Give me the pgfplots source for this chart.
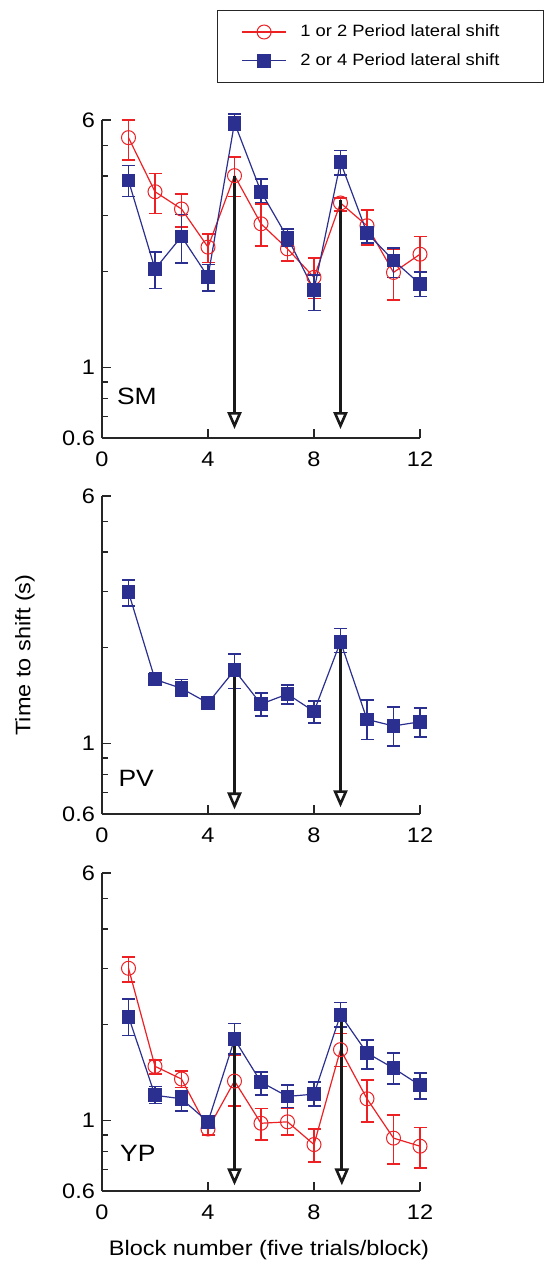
\documentclass[border=0pt]{standalone}
\usepackage{pgfplots}
\pgfplotsset{compat=1.18}
\usepackage{pgfplotstable}
\usetikzlibrary{arrows.meta}
\usepackage{fontspec}
\setmainfont{Liberation Sans}[FakeStretch=1.12]
\definecolor{redM}{RGB}{237,32,36}
\definecolor{blueM}{RGB}{43,47,143}

\pgfplotstableread{
x y hi lo
1 5.28 6.00 4.50
2 3.57 4.07 3.05
3 3.15 3.51 2.77
4 2.39 2.63 2.14
5 4.01 4.59 3.45
6 2.83 3.27 2.41
7 2.36 2.43 2.16
8 1.92 2.21 1.65
9 3.29 3.41 3.11
10 2.79 3.13 2.43
11 1.99 2.36 1.63
12 2.27 2.58 1.99
}\smred
\pgfplotstableread{
x y hi lo
1 3.87 4.32 3.45
2 2.04 2.31 1.77
3 2.58 3.03 2.13
4 1.93 2.11 1.74
5 5.88 6.28 5.56
6 3.57 3.91 3.30
7 2.56 2.73 2.41
8 1.75 1.95 1.51
9 4.42 4.81 4.03
10 2.65 2.73 2.46
11 2.17 2.37 1.92
12 1.83 2.00 1.67
}\smblue
\pgfplotstableread{
x y hi lo
1 2.99 3.27 2.70
2 1.59 1.67 1.52
3 1.49 1.59 1.41
4 1.34 1.37 1.31
5 1.70 1.91 1.49
6 1.33 1.44 1.22
7 1.43 1.53 1.33
8 1.26 1.36 1.16
9 2.09 2.30 1.93
10 1.19 1.37 1.03
11 1.135 1.30 0.98
12 1.17 1.29 1.05
}\pvblue
\pgfplotstableread{
x y hi lo
1 3.01 3.27 2.72
2 1.48 1.55 1.40
3 1.35 1.43 1.27
4 0.94 0.98 0.90
5 1.33 1.61 1.11
6 0.98 1.09 0.87
7 0.99 1.09 0.90
8 0.84 0.94 0.74
9 1.67 1.88 1.48
10 1.17 1.34 0.99
11 0.88 1.04 0.73
12 0.83 0.95 0.71
}\ypred
\pgfplotstableread{
x y hi lo
1 2.12 2.41 1.85
2 1.20 1.28 1.13
3 1.17 1.24 1.07
4 0.99 1.01 0.97
5 1.80 2.02 1.62
6 1.32 1.42 1.20
7 1.19 1.29 1.10
8 1.21 1.32 1.11
9 2.15 2.35 1.97
10 1.63 1.79 1.45
11 1.46 1.63 1.30
12 1.29 1.41 1.17
}\ypblue

\pgfplotsset{
  legend image code/.code={\draw[mark repeat=2,mark phase=2,#1]
    plot coordinates {(0cm,0cm) (0.38cm,0cm) (0.76cm,0cm)};},
  every axis/.append style={
    scale only axis, width=159pt, height=159pt, anchor=south west,
    xmin=0, xmax=12, ymin=0.6, ymax=6,
    axis x line*=bottom, axis y line*=left,
    xtick={0,4,8,12}, xticklabels={0,4,8,12},
    ytick={0.6,1,6}, yticklabels={0.6,1,6},
    minor ytick={0.7,0.8,0.9,2,3,4,5},
    major tick length=4.5pt, minor tick length=3pt,
    tick style={black!85, line width=0.6pt},
    axis line style={black!85, line width=0.6pt},
    tick label style={font=\fontsize{10.5}{12}\selectfont},
    xticklabel style={yshift=-3.5pt},
    clip=false,
  },
}

\begin{document}
\begin{tikzpicture}
\useasboundingbox (0,0) rectangle (273pt,-634.5pt);

% ---------- SM ----------
\begin{semilogyaxis}[at={(51pt,-219pt)},
  legend style={at={(1.39,1.346)}, anchor=north east, draw=black!85,
    line width=0.6pt, font=\fontsize{8.2}{10}\selectfont,
    inner xsep=12pt, inner ysep=5pt, row sep=3pt, cells={anchor=west}}]
\addplot[redM, line width=0.6pt, mark=o, mark size=3.5pt,
    mark options={fill=white, line width=0.5pt},
    error bars/.cd, y dir=both, y explicit, error mark=-,
    error bar style={line width=0.8pt},
    error mark options={rotate=90, mark size=3.25pt, line width=0.8pt}]
  table[x=x, y=y, y error plus expr=\thisrow{hi}-\thisrow{y},
  y error minus expr=\thisrow{y}-\thisrow{lo}] {\smred};
\addlegendentry{\hspace{5pt}1 or 2 Period lateral shift\kern8pt}
\addplot[blueM, line width=0.6pt, mark=square*, mark size=3.2pt,
    mark options={line width=0.5pt},
    error bars/.cd, y dir=both, y explicit, error mark=-,
    error bar style={line width=0.8pt},
    error mark options={rotate=90, mark size=3.25pt, line width=0.8pt}]
  table[x=x, y=y, y error plus expr=\thisrow{hi}-\thisrow{y},
  y error minus expr=\thisrow{y}-\thisrow{lo}] {\smblue};
\addlegendentry{\hspace{5pt}2 or 4 Period lateral shift\kern8pt}
\addplot[black!90, line width=1.5pt, forget plot,
    -{Triangle[open, width=7pt, length=8.5pt, line width=1.3pt]}] coordinates {(5,4.01) (5,0.64)};
\addplot[black!90, line width=1.5pt, forget plot,
    -{Triangle[open, width=7pt, length=8.5pt, line width=1.3pt]}] coordinates {(9,3.35) (9,0.64)};
\node[anchor=west, font=\fontsize{11.8}{14}\selectfont] at (rel axis cs:0.025,0.13) {SM};
\end{semilogyaxis}

% ---------- PV ----------
\begin{semilogyaxis}[at={(51pt,-407pt)}]
\addplot[blueM, line width=0.6pt, mark=square*, mark size=3.2pt,
    mark options={line width=0.5pt},
    error bars/.cd, y dir=both, y explicit, error mark=-,
    error bar style={line width=0.8pt},
    error mark options={rotate=90, mark size=3.25pt, line width=0.8pt}]
  table[x=x, y=y, y error plus expr=\thisrow{hi}-\thisrow{y},
  y error minus expr=\thisrow{y}-\thisrow{lo}] {\pvblue};
\addplot[black!90, line width=1.5pt, forget plot,
    -{Triangle[open, width=7pt, length=8.5pt, line width=1.3pt]}] coordinates {(5,1.70) (5,0.62)};
\addplot[black!90, line width=1.5pt, forget plot,
    -{Triangle[open, width=7pt, length=8.5pt, line width=1.3pt]}] coordinates {(9,2.09) (9,0.63)};
\node[anchor=west, font=\fontsize{11.8}{14}\selectfont] at (rel axis cs:0.03,0.112) {PV};
\end{semilogyaxis}

% ---------- YP ----------
\begin{semilogyaxis}[at={(51pt,-595.5pt)}]
\addplot[redM, line width=0.6pt, mark=o, mark size=3.5pt,
    mark options={fill=white, line width=0.5pt},
    error bars/.cd, y dir=both, y explicit, error mark=-,
    error bar style={line width=0.8pt},
    error mark options={rotate=90, mark size=3.25pt, line width=0.8pt}]
  table[x=x, y=y, y error plus expr=\thisrow{hi}-\thisrow{y},
  y error minus expr=\thisrow{y}-\thisrow{lo}] {\ypred};
\addplot[blueM, line width=0.6pt, mark=square*, mark size=3.2pt,
    mark options={line width=0.5pt},
    error bars/.cd, y dir=both, y explicit, error mark=-,
    error bar style={line width=0.8pt},
    error mark options={rotate=90, mark size=3.25pt, line width=0.8pt}]
  table[x=x, y=y, y error plus expr=\thisrow{hi}-\thisrow{y},
  y error minus expr=\thisrow{y}-\thisrow{lo}] {\ypblue};
\addplot[black!90, line width=1.5pt, forget plot,
    -{Triangle[open, width=7pt, length=8.5pt, line width=1.3pt]}] coordinates {(5,1.80) (5,0.625)};
\addplot[black!90, line width=1.5pt, forget plot,
    -{Triangle[open, width=7pt, length=8.5pt, line width=1.3pt]}] coordinates {(9.05,2.2) (9.05,0.625)};
\node[anchor=west, font=\fontsize{11.8}{14}\selectfont] at (rel axis cs:0.035,0.119) {YP};
\end{semilogyaxis}

\node[rotate=90, font=\fontsize{10.5}{12}\selectfont] at (12.5pt,-327.5pt) {Time to shift (s)};
\node[font=\fontsize{10.5}{12}\selectfont] at (134.5pt,-625pt) {Block number (five trials/block)};
\end{tikzpicture}
\end{document}
